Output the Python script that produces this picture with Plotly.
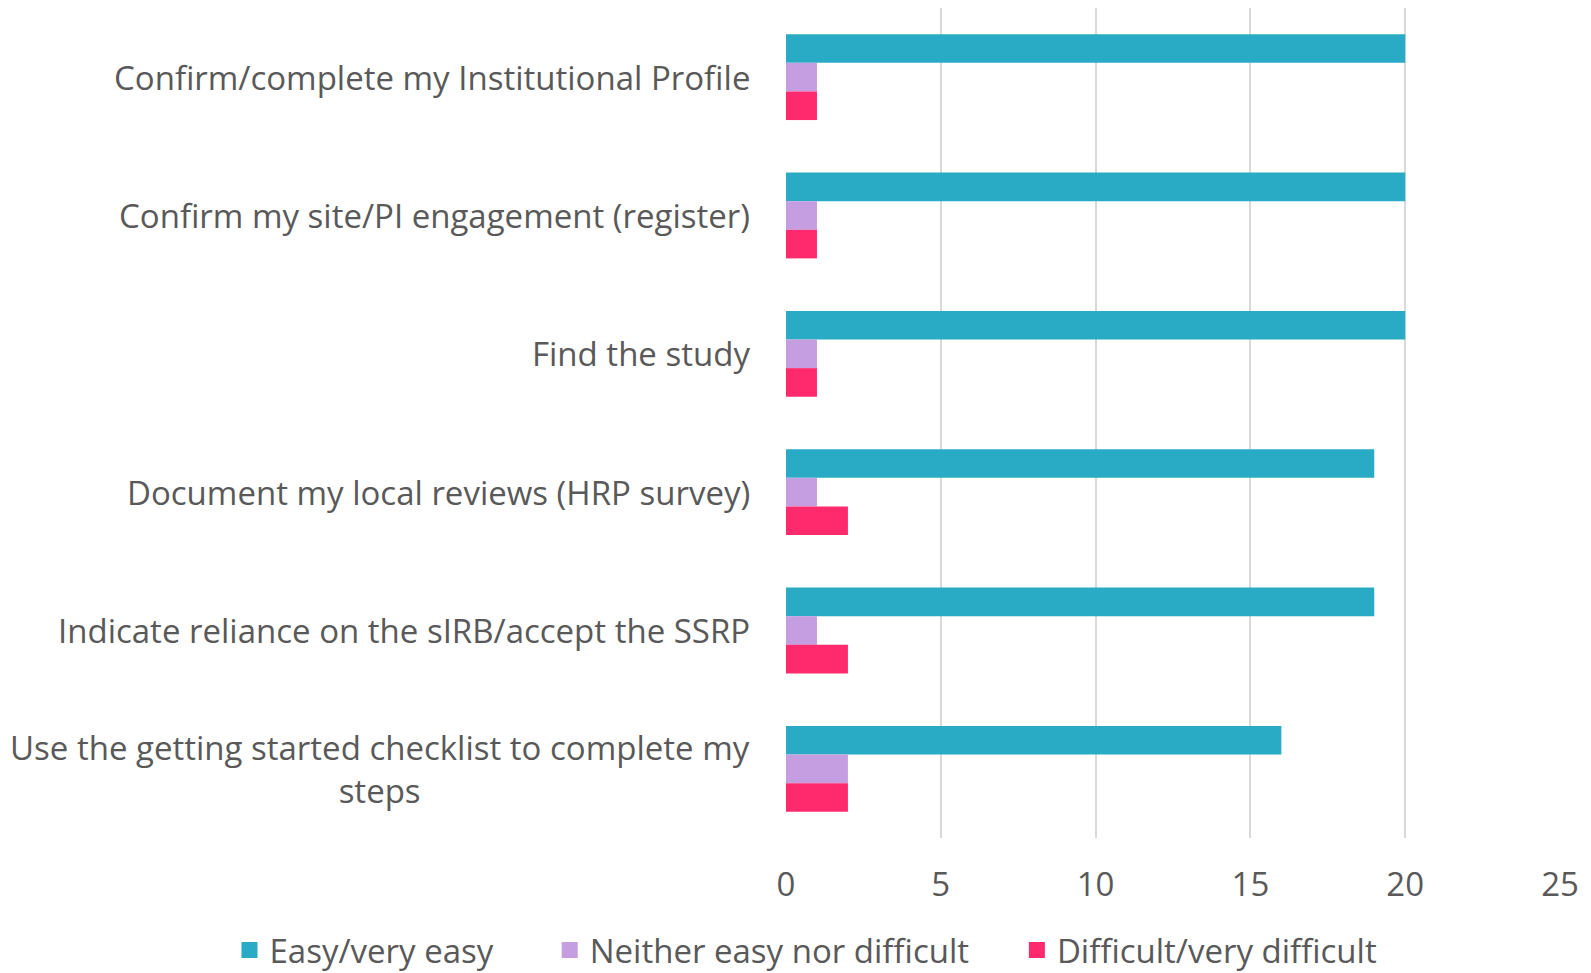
import plotly.graph_objects as go

categories = [
    "Confirm/complete my Institutional Profile",
    "Confirm my site/PI engagement (register)",
    "Find the study",
    "Document my local reviews (HRP survey)",
    "Indicate reliance on the sIRB/accept the SSRP",
    "Use the getting started checklist to complete my<br>steps",
]
easy = [20, 20, 20, 19, 19, 16]
neither = [1, 1, 1, 1, 1, 2]
difficult = [1, 1, 1, 2, 2, 2]
series_names = ["Easy/very easy", "Neither easy nor difficult", "Difficult/very difficult"]
colors = ["#2AABC5", "#C49EE0", "#FF2A6D"]
x_ticks = [0, 5, 10, 15, 20, 25]

FONT = "Open Sans"
GRAY = "#595959"
FS = 33
PADS = ["\u00a0" * 6, "\u00a0" * 5, ""]

fig = go.Figure()
for name, vals, col in zip(series_names, [easy, neither, difficult], colors):
    fig.add_trace(go.Bar(
        y=categories, x=vals, name=name, orientation="h",
        marker=dict(color=col, line=dict(width=0)),
        showlegend=False, legendgroup=name,
    ))
# legend entries with larger square swatches
for name, col, pad in zip(series_names, colors, PADS):
    fig.add_trace(go.Scatter(
        x=[None], y=[None], mode="markers", name=name + pad,
        marker=dict(symbol="square", size=16, color=col),
        legendgroup=name, showlegend=True, hoverinfo="skip",
    ))

annotations = []
for c in categories:
    annotations.append(dict(
        x=0, xref="paper", xanchor="right", xshift=-34,
        y=c, yref="y", yanchor="middle",
        text=c, showarrow=False, align="center",
        font=dict(family=FONT, size=FS, color=GRAY),
    ))

fig.update_layout(
    width=1583, height=965,
    paper_bgcolor="white", plot_bgcolor="white",
    barmode="group", bargap=0.38, bargroupgap=0,
    margin=dict(l=778, r=31, t=0, b=135, autoexpand=False),
    font=dict(family=FONT, size=FS, color=GRAY),
    xaxis=dict(
        range=[0, 25], tickvals=x_ticks, showgrid=True, gridcolor="#D9D9D9", gridwidth=2,
        zeroline=False, showline=False, ticks="", ticklabelstandoff=24,
        tickfont=dict(family=FONT, size=FS, color=GRAY),
    ),
    yaxis=dict(
        autorange="reversed", showticklabels=False, showgrid=False, zeroline=False,
        showline=False, ticks="", categoryorder="array", categoryarray=categories,
    ),
    legend=dict(
        orientation="h", xref="paper", x=-0.719, xanchor="left",
        yref="paper", y=-0.135, yanchor="middle",
        font=dict(family=FONT, size=FS, color=GRAY), traceorder="normal",
        itemclick=False, itemdoubleclick=False,
    ),
    annotations=annotations,
)

fig.write_html("out.html")
